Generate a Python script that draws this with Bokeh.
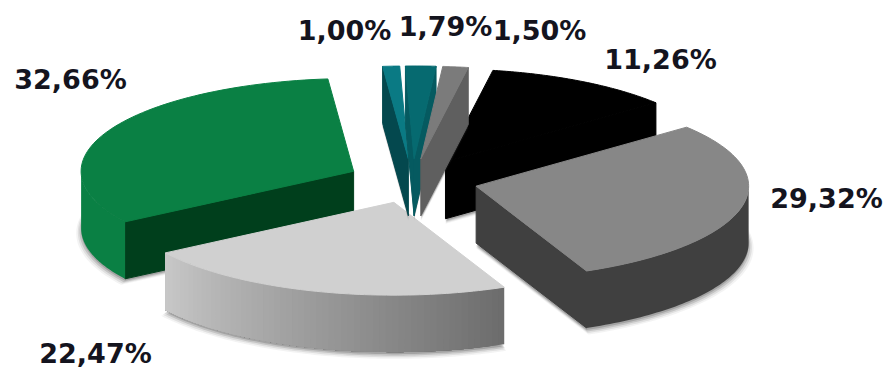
import math

from bokeh.core.properties import value
from bokeh.embed import file_html
from bokeh.plotting import figure
from bokeh.resources import INLINE

# Shares of the exploded pie, clockwise from the green slice
labels_order = ["green", "teal_a", "teal_b", "steel", "black", "mid", "light"]
shares = [32.66, 1.00, 1.79, 1.50, 11.26, 29.32, 22.47]

top_colors = ["#0a8044", "#0a7a84", "#066a70", "#7b7b7b", "#000000", "#878787", "#d0d0d0"]
radial_colors = ["#003f1c", "#04484e", "#055a60", "#5f5f5f", "#000000", "#404040", "#b0b0b0"]
wall_left = ["#0a8044", "#04484e", "#055a60", "#5f5f5f", "#000000", "#404040", "#c8c8c8"]
wall_right = ["#0a8044", "#04484e", "#055a60", "#5f5f5f", "#000000", "#404040", "#6c6c6c"]

label_x = [70, 344, 445, 539, 660, 826, 95]
label_y = [79, 30, 26, 30, 59, 198, 353]

# Projection of the pie onto the page
CX, CY = 412.0, 180.5
RX, RY = 272.5, 92.8
DEPTH = 57.0
EXPLODE = 0.24
START_DEG = 237.0
FONT_PX = "27px"

# Slices are painted back to front so that nearer ones overlap the others
paint_order = ["green", "light", "black", "mid", "teal_a", "teal_b", "steel"]


def point(theta, r=1.0):
    t = math.radians(theta)
    return RX * r * math.sin(t), -RY * r * math.cos(t)


def mix(c1, c2, f):
    a = [int(c1[i:i + 2], 16) for i in (1, 3, 5)]
    b = [int(c2[i:i + 2], 16) for i in (1, 3, 5)]
    return "#%02x%02x%02x" % tuple(round(u + (v - u) * f) for u, v in zip(a, b))


def arc(t0, t1, n=70):
    return [t0 + (t1 - t0) * i / n for i in range(n + 1)]


p = figure(width=886, height=368, x_range=(0, 886), y_range=(368, 0),
           output_backend="svg", toolbar_location=None, min_border=0)
p.axis.visible = False
p.grid.visible = False
p.outline_line_color = None
p.background_fill_color = "#ffffff"
p.border_fill_color = "#ffffff"

# Angular span of each slice, kept within one turn at its start
spans = {}
angle = START_DEG
for name, share in zip(labels_order, shares):
    sweep = share * 3.6
    begin = angle % 360
    spans[name] = (begin, begin + sweep)
    angle += sweep

for name in paint_order:
    i = labels_order.index(name)
    t0, t1 = spans[name]
    mid_angle = (t0 + t1) / 2
    ox, oy = point(mid_angle, EXPLODE)
    ax, ay = CX + ox, CY + oy

    def at(theta, dz=0.0, r=1.0):
        x, y = point(theta, r)
        return ax + x, ay + y + dz

    top = [(ax, ay)] + [at(t) for t in arc(t0, t1)]

    # soft contact shadow under the base of the slice
    for grow, shift, alpha in ((1.018, 5, 0.06), (1.012, 4, 0.10), (1.006, 3, 0.16), (1.0, 2, 0.22)):
        base = [(ax, ay + DEPTH + shift)] + [at(t, DEPTH + shift, grow) for t in arc(t0, t1)]
        p.patch([q[0] for q in base], [q[1] for q in base], color="#303030",
                alpha=alpha, line_color=None)

    def radial(theta):
        ex, ey = at(theta)
        xs = [ax, ex, ex, ax]
        ys = [ay, ey, ey + DEPTH, ay + DEPTH]
        p.patch(xs, ys, color=radial_colors[i], line_color=radial_colors[i], line_width=1)

    # a straight edge shows its wall only where that wall turns towards the viewer
    if 0 < (t1 % 360) < 180:
        radial(t1)
    if 180 < (t0 % 360) < 360:
        radial(t0)

    # outer wall: each band runs on to the far end and the next one paints over it,
    # so the shading has no seams between bands
    lo = max(t0, 90.0)
    hi = min(t1, 270.0)
    if hi > lo:
        steps = arc(lo, hi, 60)
        bands = 60 if wall_left[i] != wall_right[i] else 1
        for k in range(bands):
            colour = mix(wall_left[i], wall_right[i], 1 - (k + 0.5) / bands)
            rest = steps[k:]
            outline = [at(a) for a in rest] + [at(a, DEPTH) for a in reversed(rest)]
            p.patch([q[0] for q in outline], [q[1] for q in outline], color=colour, line_color=None)

    p.patch([q[0] for q in top], [q[1] for q in top], color=top_colors[i],
            line_color=top_colors[i], line_width=1)

# Percentage labels with a decimal comma
label_text = [f"{s:.2f}%".replace(".", ",") for s in shares]
p.text(x=label_x, y=label_y, text=label_text, text_align="center", text_baseline="middle",
       text_font=value("DejaVu Sans"), text_font_style="bold", text_font_size=FONT_PX,
       text_color="#14141e")

open("out.html", "w").write(file_html(p, INLINE))
